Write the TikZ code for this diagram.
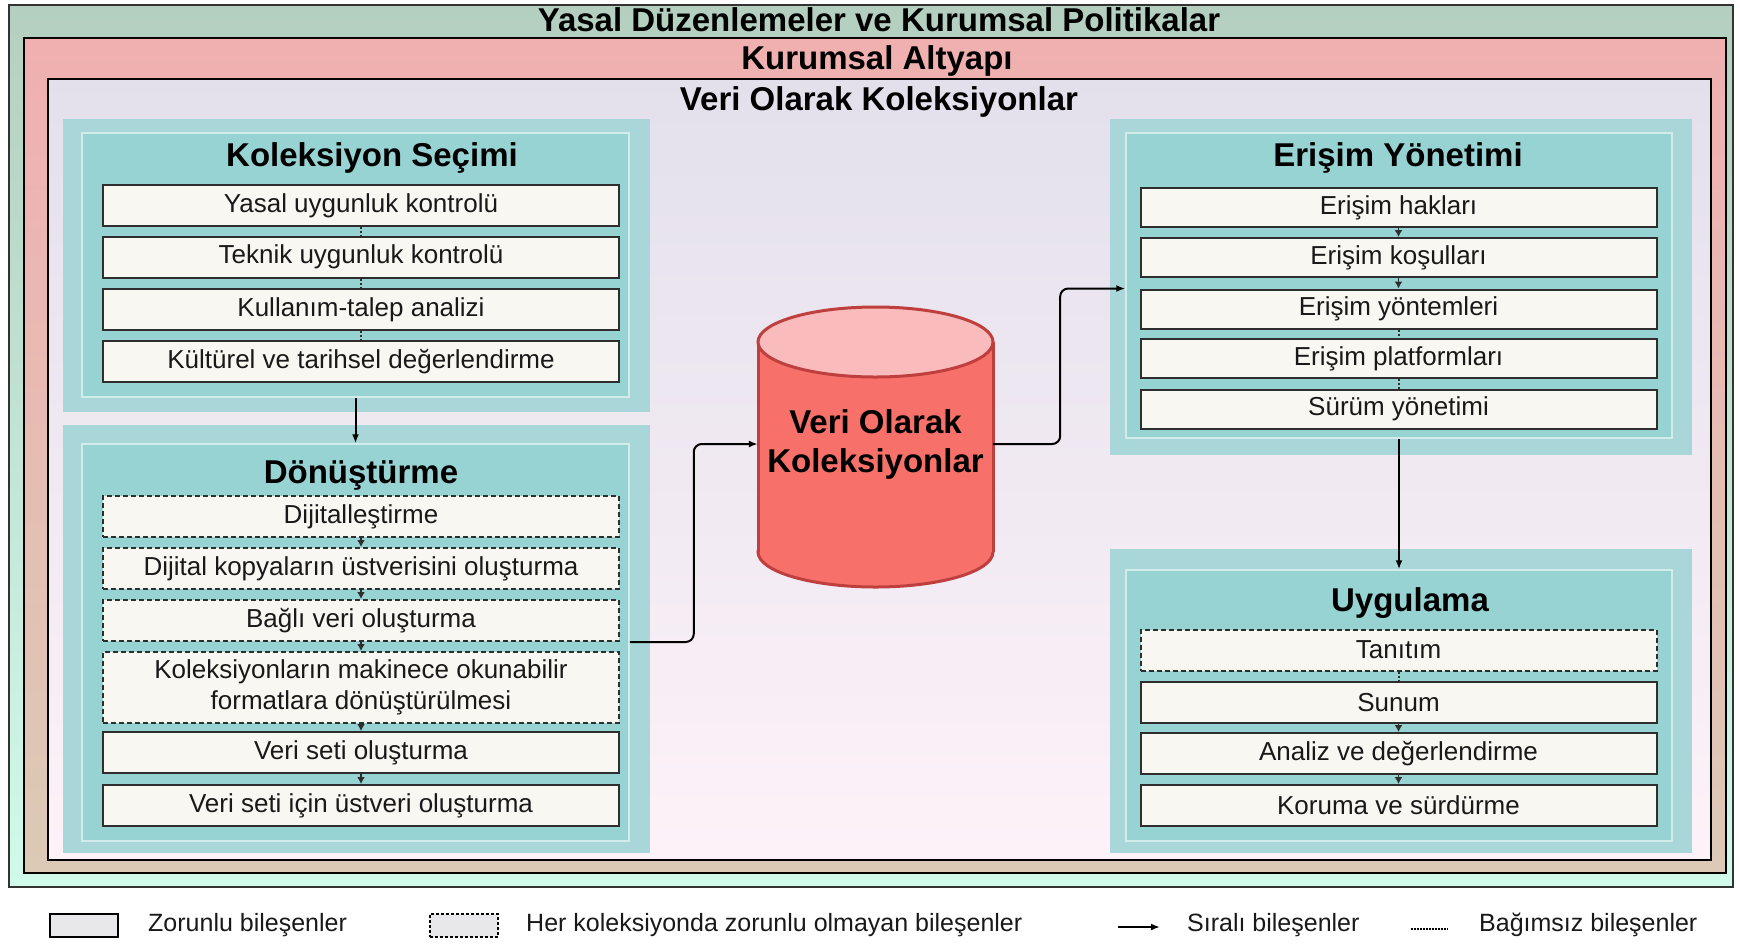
\documentclass[tikz,border=0pt]{standalone}
\usepackage{fontspec}
\setmainfont{Liberation Sans}
\usepackage{xcolor}
\usetikzlibrary{shapes,arrows.meta}

\definecolor{greenA}{HTML}{B4CFC0}
\definecolor{greenB}{HTML}{D0FAEA}
\definecolor{pinkA}{HTML}{F0B0B0}
\definecolor{pinkB}{HTML}{DCC9B6}
\definecolor{lavA}{HTML}{E3E0EC}
\definecolor{lavB}{HTML}{FDF2F8}
\definecolor{tealOut}{HTML}{A9D7D9}
\definecolor{tealIn}{HTML}{97D3D3}
\definecolor{tealRim}{HTML}{D2ECEC}
\definecolor{boxFill}{HTML}{F8F7F2}
\definecolor{boxRim}{HTML}{2E2E2E}
\definecolor{cylBody}{HTML}{F7716A}
\definecolor{cylTop}{HTML}{F9BBBB}
\definecolor{cylRim}{HTML}{BF3F3F}
\definecolor{legFill}{HTML}{E8E8EB}

\begin{document}
\begin{tikzpicture}[x=1pt,y=-1pt]
  \tikzstyle{every node}=[font=\fontsize{26}{31}\selectfont, inner sep=0pt, text=black!90]
  \tikzstyle{frametitle}=[font=\fontsize{33}{39}\selectfont\bfseries, text=black]
  \tikzstyle{panelout}=[fill=tealOut, minimum width=587pt]
  \tikzstyle{panelin}=[fill=tealIn, draw=tealRim, line width=1.5pt, minimum width=547pt]
  \tikzstyle{item}=[draw=boxRim, fill=boxFill, line width=2pt, minimum width=516pt, minimum height=41pt, align=center]
  \tikzstyle{optitem}=[item, dash pattern=on 5pt off 3pt]
  \tikzstyle{eitem}=[item, minimum height=39pt]
  \tikzstyle{seq}=[-{Latex[length=7pt,width=8pt]}, line width=1.5pt, draw=boxRim]
  \tikzstyle{bigseq}=[-{Latex[length=9pt,width=7pt]}, line width=2pt]
  \tikzstyle{indep}=[line width=2pt, dash pattern=on 2pt off 2pt, draw=boxRim]
  \tikzstyle{legbox}=[draw=black, fill=legFill, line width=2pt, minimum width=68pt, minimum height=23pt]

  \fill[white] (0,0) rectangle (1740,943);
  \useasboundingbox (0,0) rectangle (1740,943);

  % frames
  \draw[draw=black!80, line width=2pt, top color=greenA, bottom color=greenB] (9,5) rectangle (1733,887);
  \draw[line width=2.5pt, top color=pinkA, bottom color=pinkB] (24,38) rectangle (1726,873);
  \draw[line width=2.5pt, top color=lavA, bottom color=lavB] (48,79) rectangle (1711,860);
  \node[frametitle] (tYasal) at (879,20) {Yasal Düzenlemeler ve Kurumsal Politikalar};
  \node[frametitle] (tAlt) at (877,61) {Kurumsal Altyapı};
  \node[frametitle] (tVeri) at (879,102) {Veri Olarak Koleksiyonlar};

  % panels
  \node[panelout, minimum height=293pt] (ksOut) at (356.5,265.5) {};
  \node[panelin, minimum height=264pt] (ksIn) at (355.5,265) {};
  \node[panelout, minimum height=428pt] (dnOut) at (356.5,639) {};
  \node[panelin, minimum height=397pt] (dnIn) at (355.5,642.5) {};
  \node[panelout, minimum width=582pt, minimum height=336pt] (esOut) at (1401,287) {};
  \node[panelin, minimum width=546pt, minimum height=305pt] (esIn) at (1399,285.5) {};
  \node[panelout, minimum width=582pt, minimum height=304pt] (uyOut) at (1401,701) {};
  \node[panelin, minimum width=546pt, minimum height=271pt] (uyIn) at (1399,705.5) {};

  \node[frametitle] (ksH) at (372,158) {Koleksiyon Seçimi};
  \node[frametitle] (dnH) at (361,475) {Dönüştürme};
  \node[frametitle] (esH) at (1398,158) {Erişim Yönetimi};
  \node[frametitle] (uyH) at (1410,603) {Uygulama};

  % Koleksiyon Secimi
  \node[item] (k1) at (361,205.5) {Yasal uygunluk kontrolü};
  \node[item] (k2) at (361,257) {Teknik uygunluk kontrolü};
  \node[item] (k3) at (361,309.5) {Kullanım-talep analizi};
  \node[item] (k4) at (361,361.5) {Kültürel ve tarihsel değerlendirme};
  \draw[indep] (k1) -- (k2);
  \draw[indep] (k2) -- (k3);
  \draw[indep] (k3) -- (k4);

  % Donusturme
  \node[optitem] (d1) at (361,516.5) {Dijitalleştirme};
  \node[optitem] (d2) at (361,568.5) {Dijital kopyaların üstverisini oluşturma};
  \node[optitem] (d3) at (361,620.5) {Bağlı veri oluşturma};
  \node[optitem, minimum height=71pt] (d4) at (361,687.5) {Koleksiyonların makinece okunabilir\\formatlara dönüştürülmesi};
  \node[item] (d5) at (361,752.5) {Veri seti oluşturma};
  \node[item] (d6) at (361,805.5) {Veri seti için üstveri oluşturma};
  \draw[seq] (d1) -- (d2);
  \draw[seq] (d2) -- (d3);
  \draw[seq] (d3) -- (d4);
  \draw[seq] (d4) -- (d5);
  \draw[seq] (d5) -- (d6);

  % Erisim Yonetimi
  \node[eitem] (e1) at (1398.5,207.5) {Erişim hakları};
  \node[eitem] (e2) at (1398.5,257.5) {Erişim koşulları};
  \node[eitem] (e3) at (1398.5,309) {Erişim yöntemleri};
  \node[eitem] (e4) at (1398.5,358.5) {Erişim platformları};
  \node[eitem] (e5) at (1398.5,409) {Sürüm yönetimi};
  \draw[seq] (e1) -- (e2);
  \draw[seq] (e2) -- (e3);
  \draw[indep] (e3) -- (e4);
  \draw[indep] (e4) -- (e5);

  % Uygulama
  \node[optitem] (u1) at (1398.5,650) {Tanıtım};
  \node[item] (u2) at (1398.5,702.5) {Sunum};
  \node[item] (u3) at (1398.5,753.5) {Analiz ve değerlendirme};
  \node[item] (u4) at (1398.5,805.5) {Koruma ve sürdürme};
  \draw[indep] (u1) -- (u2);
  \draw[seq] (u2) -- (u3);
  \draw[seq] (u3) -- (u4);

  % cylinder
  \fill[cylBody, draw=cylRim, line width=3pt] (875.5,552) ellipse [x radius=117.5pt, y radius=35pt];
  \fill[cylBody] (758,342) rectangle (993,552);
  \draw[cylRim, line width=3pt] (758,342) -- (758,552) (993,342) -- (993,552);
  \draw[cylRim, fill=cylTop, line width=3pt] (875.5,342) ellipse [x radius=117.5pt, y radius=35pt];
  \node[font=\fontsize{33}{39}\selectfont\bfseries, text=black, align=center, minimum width=235pt, minimum height=280pt] (veri) at (875.5,444) {Veri Olarak\\Koleksiyonlar};

  % connectors
  \draw[bigseq] (ksIn) -- (dnIn);
  \draw[bigseq] (esIn) -- (uyIn);
  \draw[bigseq, rounded corners=8pt] (dnIn.east |- d3.south) -- ++(64,0) |- (veri.west);
  \draw[bigseq, rounded corners=8pt] (veri.east) -- ++(67,0) |- (esIn.west |- e3.north);

  % legend
  \node[legbox] (lg1) at (84,925.5) {};
  \node[anchor=west, font=\fontsize{25}{30}\selectfont] (lt1) at (148,925) {Zorunlu bileşenler};
  \node[legbox, dash pattern=on 3pt off 2pt] (lg2) at (463.5,925) {};
  \node[anchor=west, font=\fontsize{25}{30}\selectfont] (lt2) at (526,925) {Her koleksiyonda zorunlu olmayan bileşenler};
  \coordinate (la1) at (1118,927);
  \coordinate (la2) at (1160,927);
  \draw[-{Latex[length=9pt,width=7pt]}, line width=1.8pt] (la1) -- (la2);
  \node[anchor=west, font=\fontsize{25}{30}\selectfont] (lt3) at (1187,925) {Sıralı bileşenler};
  \coordinate (ld1) at (1411,929);
  \coordinate (ld2) at (1448,929);
  \draw[line width=1.5pt, dash pattern=on 1.5pt off 1.5pt] (ld1) -- (ld2);
  \node[anchor=west, font=\fontsize{25}{30}\selectfont] (lt4) at (1479,925) {Bağımsız bileşenler};
\end{tikzpicture}
\end{document}
